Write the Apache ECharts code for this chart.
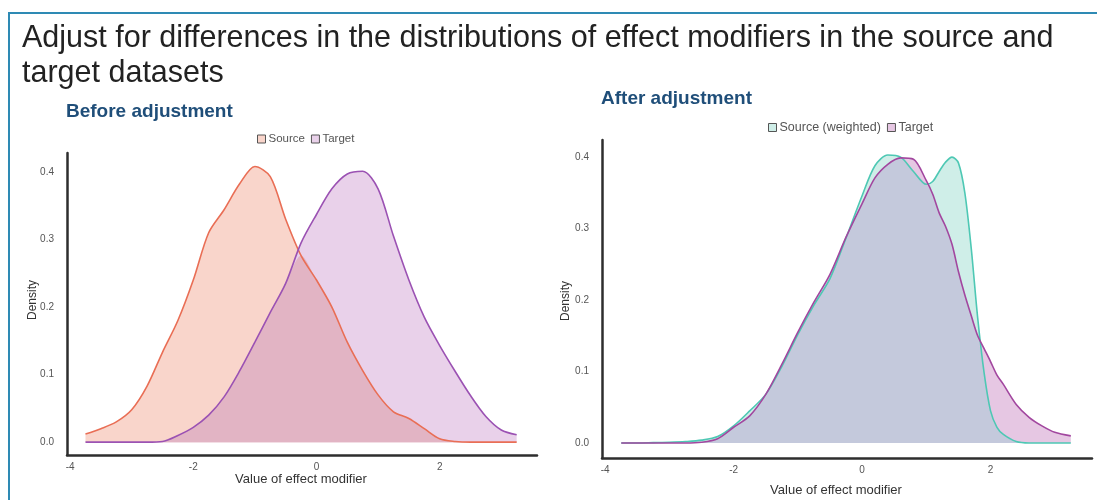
<!DOCTYPE html>
<html><head><meta charset="utf-8">
<script src="https://cdn.jsdelivr.net/npm/echarts@6/dist/echarts.min.js"></script>
<style>html,body{margin:0;padding:0;background:#fff}#c{width:1097px;height:500px}</style>
</head><body><div id="c"></div>
<script>
// ---- data ----
const titleLine1 = 'Adjust for differences in the distributions of effect modifiers in the source and';
const titleLine2 = 'target datasets';
const panelTitles = ['Before adjustment', 'After adjustment'];
const xTickValues = [-4, -2, 0, 2];
const yTickValues = [0, 0.1, 0.2, 0.3, 0.4];

const beforeX = [-3.75,-3.5,-3.25,-3,-2.75,-2.5,-2.25,-2,-1.75,-1.5,-1.25,-1,-0.75,-0.5,-0.25,0,0.25,0.5,0.75,1,1.25,1.5,1.75,2,2.25,2.5,2.75,3,3.25];
const beforeSource = [0.012,0.020,0.030,0.048,0.083,0.133,0.180,0.240,0.310,0.344,0.382,0.408,0.393,0.330,0.276,0.240,0.200,0.148,0.106,0.070,0.045,0.035,0.020,0.005,0.001,0,0,0,0];
const beforeTarget = [0,0,0,0,0,0.001,0.010,0.022,0.040,0.067,0.105,0.148,0.192,0.235,0.295,0.337,0.375,0.397,0.401,0.375,0.305,0.240,0.185,0.143,0.105,0.069,0.038,0.018,0.011];

const afterX = [-3.75,-3.5,-3.25,-3,-2.75,-2.5,-2.25,-2,-1.75,-1.5,-1.25,-1,-0.75,-0.5,-0.25,0,0.2,0.4,0.6,0.8,1,1.1,1.2,1.3,1.4,1.5,1.6,1.7,1.8,1.9,2,2.1,2.2,2.4,2.6,2.8,3,3.25];
const afterSourceWeighted = [0,0,0.0005,0.001,0.002,0.004,0.009,0.024,0.045,0.068,0.107,0.152,0.193,0.230,0.287,0.346,0.388,0.403,0.400,0.380,0.362,0.366,0.380,0.393,0.400,0.392,0.350,0.272,0.175,0.098,0.045,0.022,0.012,0.002,0,0,0,0];
const afterTarget = [0,0,0,0,0,0.001,0.006,0.022,0.038,0.068,0.110,0.155,0.197,0.236,0.288,0.335,0.371,0.390,0.399,0.397,0.367,0.348,0.322,0.303,0.278,0.240,0.207,0.178,0.150,0.132,0.114,0.095,0.082,0.054,0.036,0.024,0.015,0.010];

// ---- build ----
const FONT = '"Liberation Sans", Arial, sans-serif';
const pairs = (xs, ys) => xs.map((x, i) => [x, ys[i]]);
const minPairs = (xs, a, b) => xs.map((x, i) => [x, Math.min(a[i], b[i])]);
const SM = 0.3;

function panelSeries(idx, xs, a, b, names, cols) {
  const base = { type: 'line', xAxisIndex: idx, yAxisIndex: idx, smooth: SM, showSymbol: false, silent: true, animation: false };
  return [
    Object.assign({}, base, { name: 'fa' + idx, data: pairs(xs, a), z: 1, lineStyle: { opacity: 0, width: 0 }, areaStyle: { color: cols.aFill, opacity: 1 } }),
    Object.assign({}, base, { name: 'fb' + idx, data: pairs(xs, b), z: 2, lineStyle: { opacity: 0, width: 0 }, areaStyle: { color: cols.bFill, opacity: 1 } }),
    Object.assign({}, base, { name: 'fo' + idx, data: minPairs(xs, a, b), z: 3, lineStyle: { opacity: 0, width: 0 }, areaStyle: { color: cols.oFill, opacity: 1 } }),
    Object.assign({}, base, { name: names[0], data: pairs(xs, a), z: 4, lineStyle: { color: cols.aLine, width: 1.6 }, itemStyle: { color: cols.aFill } }),
    Object.assign({}, base, { name: names[1], data: pairs(xs, b), z: 5, lineStyle: { color: cols.bLine, width: 1.6 }, itemStyle: { color: cols.bFill } })
  ];
}

const leftCols = { aFill: '#f9d5cb', bFill: '#e9d1ea', oFill: '#e2b4c4', aLine: '#e96e55', bLine: '#9b52b3' };
const rightCols = { aFill: '#cfeee8', bFill: '#e6c7e3', oFill: '#c4c9dc', aLine: '#4ec8b4', bLine: '#a2479f' };

function xAxisCfg(idx) {
  return { gridIndex: idx, type: 'value', min: -4.05, max: 3.58,
    axisLine: { show: true, onZero: false, lineStyle: { color: '#2e2e2e', width: 2.5 } },
    axisTick: { show: false }, splitLine: { show: false },
    axisLabel: { customValues: xTickValues, fontSize: 10, color: '#555', margin: 7, fontFamily: FONT } };
}
function yAxisCfg(idx, min, max) {
  return { gridIndex: idx, type: 'value', min: min, max: max,
    axisLine: { show: true, onZero: false, lineStyle: { color: '#2e2e2e', width: 2.5 } },
    axisTick: { show: false }, splitLine: { show: false },
    axisLabel: { customValues: yTickValues, fontSize: 10, color: '#555', margin: 13, fontFamily: FONT, formatter: v => v.toFixed(1) } };
}

function legendCfg(names, fills, left, top, fs) {
  return { left: left, top: top, icon: 'rect', itemWidth: 8, itemHeight: 8, itemGap: 6,
    textStyle: { fontSize: fs, color: '#555', fontFamily: FONT, padding: [0, 0, 0, -2] },
    selectedMode: false,
    data: names.map((n, i) => ({ name: n, icon: 'rect', itemStyle: { color: fills[i], borderColor: '#555', borderWidth: 1 } })) };
}

const txt = (text, x, y, opts) => ({ type: 'text', x: x, y: y, silent: true,
  style: Object.assign({ text: text, fill: '#333', font: '13px ' + FONT, align: 'center', verticalAlign: 'middle' }, opts || {}) });

const option = {
  animation: false,
  backgroundColor: '#fff',
  textStyle: { fontFamily: FONT },
  grid: [
    { left: 67, right: 560, top: 153, bottom: 45 },
    { left: 602, right: 5, top: 140, bottom: 42 }
  ],
  xAxis: [xAxisCfg(0), xAxisCfg(1)],
  yAxis: [yAxisCfg(0, -0.019, 0.428), yAxisCfg(1, -0.021, 0.424)],
  legend: [
    legendCfg(['Source', 'Target'], [leftCols.aFill, leftCols.bFill], 252, 128, 11.5),
    legendCfg(['Source (weighted)', 'Target'], [rightCols.aFill, rightCols.bFill], 763, 116, 12.5)
  ],
  series: [].concat(
    panelSeries(0, beforeX, beforeSource, beforeTarget, ['Source', 'Target'], leftCols),
    panelSeries(1, afterX, afterSourceWeighted, afterTarget, ['Source (weighted)', 'Target'], rightCols)
  ),
  graphic: [
    { type: 'line', silent: true, shape: { x1: 8, y1: 13, x2: 1097, y2: 13 }, style: { stroke: '#2e8ab4', lineWidth: 2 } },
    { type: 'line', silent: true, shape: { x1: 9, y1: 12, x2: 9, y2: 500 }, style: { stroke: '#2e8ab4', lineWidth: 2 } },
    txt(titleLine1, 22, 39, { font: '30.5px ' + FONT, align: 'left', fill: '#222' }),
    txt(titleLine2, 22, 74, { font: '30.5px ' + FONT, align: 'left', fill: '#222' }),
    txt(panelTitles[0], 66, 112, { font: 'bold 19px ' + FONT, align: 'left', fill: '#1f4e79' }),
    txt(panelTitles[1], 601, 99, { font: 'bold 19px ' + FONT, align: 'left', fill: '#1f4e79' }),
    txt('Value of effect modifier', 301, 479),
    txt('Value of effect modifier', 836, 490),
    Object.assign(txt('Density', 33, 300, { font: '12px ' + FONT }), { rotation: Math.PI / 2 }),
    Object.assign(txt('Density', 566, 301, { font: '12px ' + FONT }), { rotation: Math.PI / 2 })
  ]
};

const chart = echarts.init(document.getElementById('c'), null, { renderer: 'canvas' });
chart.setOption(option);
</script>
</body></html>
